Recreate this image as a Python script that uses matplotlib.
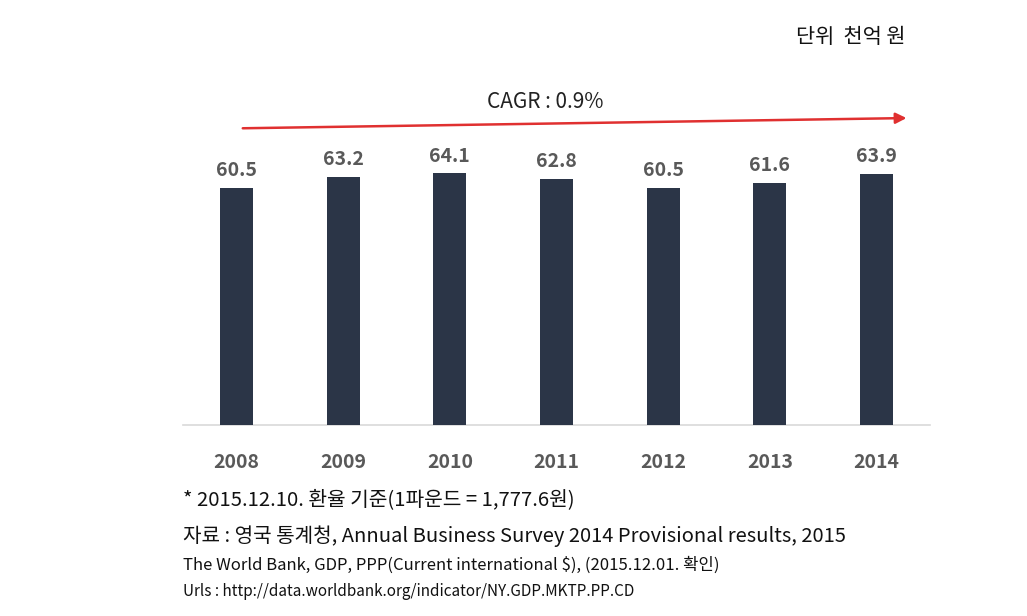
import matplotlib
matplotlib.use("Agg")
import matplotlib.pyplot as plt

years = ["2008", "2009", "2010", "2011", "2012", "2013", "2014"]
values = [60.5, 63.2, 64.1, 62.8, 60.5, 61.6, 63.9]
unit_label = "단위  천억 원"
cagr_label = "CAGR : 0.9%"
notes = [
    "* 2015.12.10. 환율 기준(1파운드 = 1,777.6원)",
    "자료 : 영국 통계청, Annual Business Survey 2014 Provisional results, 2015",
    "The World Bank, GDP, PPP(Current international $), (2015.12.01. 확인)",
    "Urls : http://data.worldbank.org/indicator/NY.GDP.MKTP.PP.CD",
]

KR = ["Noto Sans CJK KR", "DejaVu Sans"]

fig = plt.figure(figsize=(10.27, 6.16), dpi=100)
W, H = 1027, 616
ax = fig.add_axes([183 / W, 1 - 425 / H, (930 - 183) / W, (425 - 111) / H])

x = list(range(len(years)))
ax.bar(x, values, width=0.31, color="#2b3547", zorder=3)
ax.set_xlim(-0.5, 6.5)
ax.set_ylim(0, 80)

for xi, v in zip(x, values):
    ax.text(xi, v + 2.0, f"{v:.1f}", ha="center", va="bottom", fontsize=14,
            fontweight="bold", color="#595959", family=KR)

for s in ["top", "right", "left"]:
    ax.spines[s].set_visible(False)
ax.spines["bottom"].set_color("#d9d9d9")
ax.spines["bottom"].set_linewidth(1.2)
ax.set_yticks([])
ax.set_xticks(x)
ax.set_xticklabels(years, fontsize=14, fontweight="bold", color="#595959", family=KR)
ax.tick_params(axis="x", length=0, pad=20)

ax.annotate("", xy=(6.28, 78.2), xytext=(0.06, 75.6),
            arrowprops=dict(arrowstyle="-|>", color="#e03030", lw=1.8,
                            mutation_scale=16, shrinkA=0, shrinkB=0),
            annotation_clip=False)
ax.text(2.89, 82.4, cagr_label, ha="center", va="center", fontsize=15,
        color="#222222", family=KR, clip_on=False)

fig.text(905 / W, 1 - 37 / H, unit_label, ha="right", va="center", fontsize=15,
         color="#111111", family=KR)

ys = [500, 536, 565, 591]
sizes = [14.6, 14.5, 12, 11]
for t, yy, sz in zip(notes, ys, sizes):
    fig.text(183 / W, 1 - yy / H, t, ha="left", va="center", fontsize=sz,
             color="#111111", family=KR)

fig.savefig("out.png", dpi=100)
